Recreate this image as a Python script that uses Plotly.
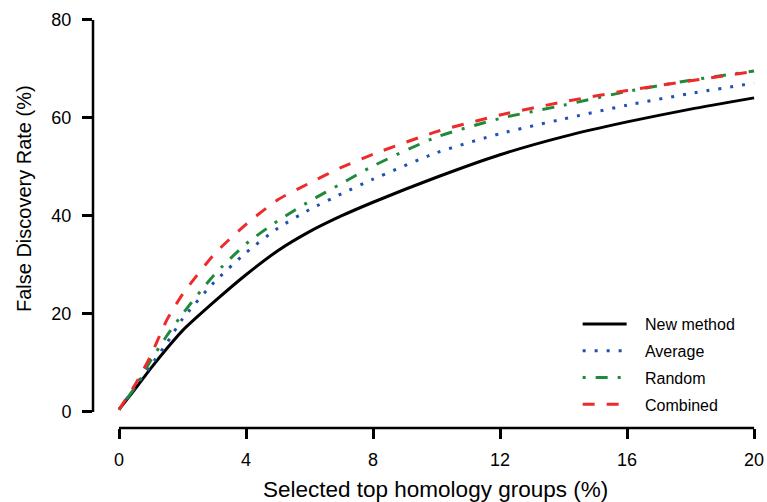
import plotly.graph_objects as go

x_vals = [0, 0.5, 1, 1.5, 2, 3, 4, 5, 6, 7, 8, 10, 12, 14, 16, 18, 20]
new_method = [0.5, 4.6, 8.9, 12.9, 16.6, 22.5, 28.0, 32.9, 36.8, 40.0, 42.8, 47.9, 52.5, 56.2, 59.2, 61.8, 64.1]
average = [0.5, 5.0, 9.5, 14.0, 19.0, 26.5, 32.5, 37.5, 41.3, 44.5, 47.5, 52.9, 56.8, 59.8, 62.6, 65.0, 67.1]
random_ = [0.5, 5.0, 10.5, 15.5, 20.0, 28.0, 34.3, 39.0, 43.0, 46.6, 50.2, 56.1, 59.9, 62.6, 65.4, 67.7, 69.6]
combined = [0.5, 5.5, 11.5, 18.7, 24.0, 32.2, 38.3, 43.3, 46.7, 49.9, 52.6, 57.2, 60.6, 63.3, 65.6, 67.6, 69.5]

x_ticks = [0, 4, 8, 12, 16, 20]
y_ticks = [0, 20, 40, 60, 80]

x_title = "Selected top homology groups (%)"
y_title = "False Discovery Rate (%)"

series = [
    ("New method", new_method, "#000000", "solid", 3),
    ("Average", average, "#2050b0", "3px,9px", 3),
    ("Random", random_, "#1f8a3a", "3px,10px,12px,10px", 3),
    ("Combined", combined, "#ee2a2a", "12px,12px", 3),
]

FONT = "Liberation Sans, Arial, Helvetica, sans-serif"
PAD = "\u00a0\u00a0\u00a0"

fig = go.Figure()
for i, (name, vals, color, dash, w) in enumerate(series):
    fig.add_trace(go.Scatter(
        x=x_vals, y=vals, mode="lines", name=PAD + name,
        line=dict(color=color, dash=dash, width=w, shape="spline", smoothing=0.6),
        legendgroup=f"g{i}",
    ))

fig.add_shape(type="line", xref="x", yref="paper", x0=0, x1=20, y0=0, y1=0,
              line=dict(color="black", width=2.5))
fig.add_shape(type="line", xref="paper", yref="y", x0=0, x1=0, y0=0, y1=80,
              line=dict(color="black", width=2.5))

fig.add_annotation(text=x_title, xref="paper", yref="paper", x=0.516, y=-0.150,
                   xanchor="center", yanchor="middle", showarrow=False,
                   font=dict(size=22.5, family=FONT, color="black"))
fig.add_annotation(text=y_title, xref="paper", yref="paper", x=-0.104, y=0.5585,
                   xanchor="center", yanchor="middle", showarrow=False, textangle=-90,
                   font=dict(size=20, family=FONT, color="black"))

fig.update_layout(
    width=767, height=502,
    margin=dict(l=93, r=11, t=18, b=74),
    paper_bgcolor="white", plot_bgcolor="white",
    font=dict(family=FONT, color="black", size=18),
    showlegend=True,
    legend=dict(
        x=0.731, y=0.295, xanchor="left", yanchor="top",
        font=dict(size=16, family=FONT),
        bgcolor="rgba(0,0,0,0)",
        traceorder="grouped", tracegroupgap=3,
        itemwidth=44,
    ),
    xaxis=dict(
        range=[-0.819, 20.06], tickvals=x_ticks, ticktext=[str(t) for t in x_ticks],
        showline=False, showgrid=False, zeroline=False, automargin=False,
        ticks="outside", ticklen=10, tickwidth=2.5, tickcolor="black",
        tickfont=dict(size=18), ticklabelstandoff=5,
    ),
    yaxis=dict(
        range=[-3.27, 80.4], tickvals=y_ticks, ticktext=[str(t) for t in y_ticks],
        showline=False, showgrid=False, zeroline=False, automargin=False,
        ticks="outside", ticklen=10, tickwidth=2.5, tickcolor="black",
        tickfont=dict(size=18), ticklabelstandoff=7,
    ),
)

fig.write_html("out.html", config={"displayModeBar": False},
               post_script="document.body.style.margin='0px';")
